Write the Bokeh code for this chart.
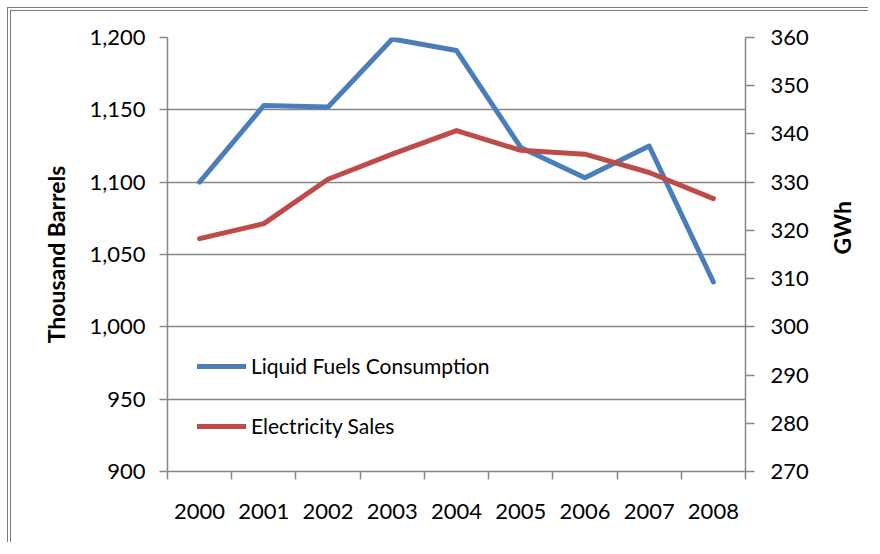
import math
from bokeh.plotting import figure
from bokeh.models import Range1d, LinearAxis, FixedTicker, NumeralTickFormatter, Legend, LegendItem
from bokeh.embed import file_html
from bokeh.resources import INLINE

years = ["2000", "2001", "2002", "2003", "2004", "2005", "2006", "2007", "2008"]
liquid_fuels = [1100, 1153, 1152, 1199, 1191, 1124, 1103, 1125, 1031]
electricity = [318.3, 321.4, 330.6, 335.8, 340.7, 336.6, 335.8, 332.0, 326.6]
left_ticks = [900, 950, 1000, 1050, 1100, 1150, 1200]
right_ticks = [270, 280, 290, 300, 310, 320, 330, 340, 350, 360]

xs = [i + 0.5 for i in range(len(years))]
bounds = list(range(len(years) + 1))

FONT = "Lato"
GREY = "#868686"
BLUE = "#4a7ebb"
RED = "#be4b48"

p = figure(width=861, height=535, output_backend="svg", toolbar_location=None,
           x_range=Range1d(0, len(years)), y_range=Range1d(left_ticks[0], left_ticks[-1]),
           min_border_left=156, min_border_right=124, min_border_top=26, min_border_bottom=75,
           x_axis_location=None, y_axis_location=None)
p.styles = {"border-top": "4px double #7a7a7a", "border-left": "4px double #7a7a7a",
            "margin-left": "7px", "margin-top": "7px"}
p.extra_y_ranges = {"gwh": Range1d(right_ticks[0], right_ticks[-1])}
p.outline_line_color = None
p.background_fill_color = "white"
p.border_fill_color = "white"

def style_axis(ax):
    ax.axis_line_color = GREY
    ax.axis_line_width = 1.5
    ax.major_tick_line_color = GREY
    ax.major_tick_line_width = 1.5
    ax.minor_tick_line_color = GREY
    ax.minor_tick_line_width = 1.5
    ax.major_label_text_font = FONT
    ax.major_label_text_font_size = "22px"
    ax.major_label_text_color = "black"
    ax.axis_label_text_font = FONT
    ax.axis_label_text_font_size = "23px"
    ax.axis_label_text_font_style = "bold"
    ax.axis_label_text_color = "black"

left = LinearAxis(ticker=FixedTicker(ticks=left_ticks), formatter=NumeralTickFormatter(format="0,0"),
                  axis_label="Thousand Barrels")
style_axis(left)
left.major_tick_out = 8
left.major_tick_in = 0
left.minor_tick_out = 0
left.major_label_standoff = 14
left.axis_label_standoff = 16
p.add_layout(left, "left")

right = LinearAxis(y_range_name="gwh", ticker=FixedTicker(ticks=right_ticks), axis_label="GWh")
style_axis(right)
right.major_tick_out = 9
right.major_tick_in = 0
right.minor_tick_out = 0
right.major_label_standoff = 16
right.axis_label_standoff = 30
right.axis_label_orientation = math.pi / 2
p.add_layout(right, "right")

bottom = LinearAxis(ticker=FixedTicker(ticks=xs, minor_ticks=bounds),
                    major_label_overrides={x: y for x, y in zip(xs, years)})
style_axis(bottom)
bottom.major_tick_out = 0
bottom.major_tick_in = 0
bottom.minor_tick_out = 8
bottom.minor_tick_in = 0
bottom.major_label_standoff = 24
p.add_layout(bottom, "below")

p.xgrid.visible = False
p.ygrid.ticker = FixedTicker(ticks=left_ticks)
p.ygrid.grid_line_color = GREY
p.ygrid.grid_line_width = 1.5

r1 = p.line(xs, liquid_fuels, line_color=BLUE, line_width=5, line_cap="round", line_join="round")
r2 = p.line(xs, electricity, y_range_name="gwh", line_color=RED, line_width=5,
            line_cap="round", line_join="round")

legend = Legend(items=[LegendItem(label="Liquid Fuels Consumption", renderers=[r1]),
                       LegendItem(label="Electricity Sales", renderers=[r2])],
                location=(30, 33), padding=0, margin=0, spacing=35,
                glyph_width=49, glyph_height=20, label_height=20, label_standoff=5,
                background_fill_alpha=0, border_line_color=None,
                label_text_font=FONT, label_text_font_size="21px", label_text_color="black")
p.add_layout(legend)

open("out.html", "w").write(file_html(p, INLINE))
